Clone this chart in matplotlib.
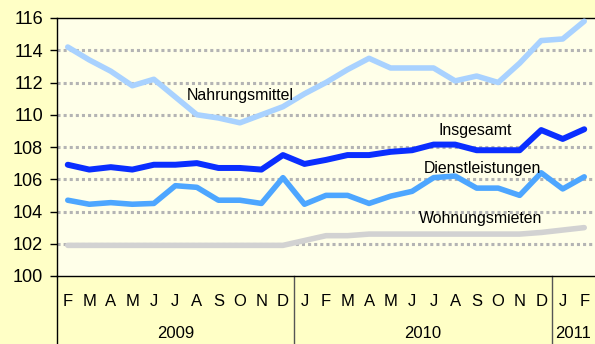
import matplotlib
matplotlib.use("Agg")
import matplotlib.pyplot as plt
from matplotlib.transforms import blended_transform_factory

plt.rcParams['font.family'] = ['Liberation Sans', 'DejaVu Sans']

months = ["F", "M", "A", "M", "J", "J", "A", "S", "O", "N", "D",
          "J", "F", "M", "A", "M", "J", "J", "A", "S", "O", "N", "D",
          "J", "F"]
years = ["2009", "2010", "2011"]
year_spans = [(0, 10), (11, 22), (23, 24)]

nahrungsmittel = [114.2, 113.4, 112.7, 111.8, 112.2, 111.1, 110.0, 109.8, 109.5, 110.0, 110.5,
                  111.3, 112.0, 112.8, 113.5, 112.9, 112.9, 112.9, 112.1, 112.4, 112.0, 113.2, 114.6,
                  114.7, 115.8]
insgesamt = [106.9, 106.6, 106.75, 106.6, 106.9, 106.9, 107.0, 106.7, 106.7, 106.6, 107.5,
             106.95, 107.2, 107.5, 107.5, 107.7, 107.8, 108.15, 108.15, 107.8, 107.8, 107.8, 109.05,
             108.5, 109.1]
dienstleistungen = [104.7, 104.45, 104.55, 104.45, 104.5, 105.6, 105.5, 104.7, 104.7, 104.5, 106.1,
                    104.45, 105.0, 105.0, 104.5, 104.95, 105.25, 106.1, 106.2, 105.45, 105.45, 105.0, 106.4,
                    105.4, 106.15]
wohnungsmieten = [101.9, 101.9, 101.9, 101.9, 101.9, 101.9, 101.9, 101.9, 101.9, 101.9, 101.9,
                  102.2, 102.5, 102.5, 102.6, 102.6, 102.6, 102.6, 102.6, 102.6, 102.6, 102.6, 102.7,
                  102.85, 103.0]

fig = plt.figure(figsize=(5.95, 3.44), dpi=100)
fig.patch.set_facecolor("#FFFFC6")
ax = fig.add_axes([57 / 595, 1 - 276 / 344, 1 - 57 / 595, 258 / 344])
ax.set_facecolor("#FFFFE9")

x = list(range(len(months)))
ax.plot(x, wohnungsmieten, color="#D2D2D2", lw=4.0, solid_capstyle="round", zorder=3)
ax.plot(x, dienstleistungen, color="#4DA6FF", lw=4.0, solid_capstyle="round", zorder=3)
ax.plot(x, nahrungsmittel, color="#A9D2FF", lw=4.0, solid_capstyle="round", zorder=3)
ax.plot(x, insgesamt, color="#0A2EFF", lw=4.3, solid_capstyle="round", zorder=4)

ax.set_xlim(-0.5, 24.5)
ax.set_ylim(100, 116)
ax.set_yticks(range(100, 117, 2))
ax.tick_params(axis="y", labelsize=13, direction="out", length=5, width=1, pad=5)
for yv in range(102, 116, 2):
    ax.axhline(yv, color="#B4B4B4", lw=2.2, linestyle=(0, (1, 1)), zorder=1)

ax.set_xticks(x)
ax.set_xticklabels(months, fontsize=12)
ax.tick_params(axis="x", length=0, pad=13)

for side in ("left", "top", "bottom"):
    ax.spines[side].set_color("black")
    ax.spines[side].set_linewidth(1.0)
ax.spines["right"].set_visible(False)

trans = blended_transform_factory(ax.transData, ax.transAxes)
below = -68 / 258
ax.plot([-0.5, -0.5], [0, below], transform=trans, color="black", lw=1.0, clip_on=False)
for sep in (10.5, 22.5):
    ax.plot([sep, sep], [0, below], transform=trans, color="#555555", lw=1.0, clip_on=False)
for name, (a, b) in zip(years, year_spans):
    ax.text((a + b) / 2, -57 / 258, name, transform=trans, ha="center", va="center", fontsize=12)

ax.text(8.03, 110.9, "Nahrungsmittel", ha="center", va="baseline", fontsize=11.4, zorder=5)
ax.text(18.94, 108.74, "Insgesamt", ha="center", va="baseline", fontsize=11.4, zorder=5)
ax.text(19.27, 106.37, "Dienstleistungen", ha="center", va="baseline", fontsize=11.4, zorder=5)
ax.text(19.17, 103.27, "Wohnungsmieten", ha="center", va="baseline", fontsize=11.4, zorder=5)

fig.savefig("out.png", dpi=100, facecolor=fig.get_facecolor())
